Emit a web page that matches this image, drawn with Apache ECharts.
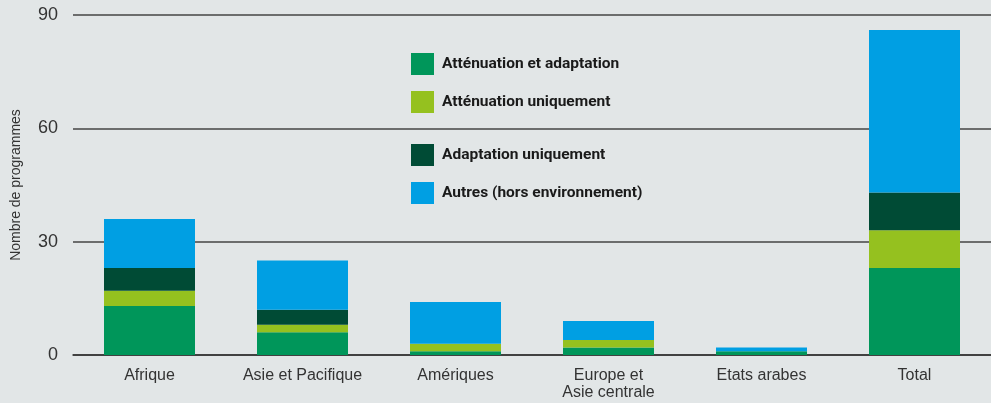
<html>
<head>
<meta charset="UTF-8">
<script src="https://cdn.jsdelivr.net/npm/echarts@6/dist/echarts.min.js"></script>
<style>
    html, body { margin: 0; padding: 0; background: #e2e6e7; }
</style>
</head>
<body>
<div id="chart" style="width:991px;height:403px;"></div>
<script>
    // regions and counts per programme type
    var regions = ['Afrique', 'Asie et Pacifique', 'Amériques', 'Europe et\nAsie centrale', 'Etats arabes', 'Total'];
    var attenAdapt = [13, 6, 1, 2, 1, 23];
    var attenOnly = [4, 2, 2, 2, 0, 10];
    var adaptOnly = [6, 4, 0, 0, 0, 10];
    var autres = [13, 13, 11, 5, 1, 43];
    var yTicks = [0, 30, 60, 90];

    var names = ['Atténuation et adaptation', 'Atténuation uniquement', 'Adaptation uniquement', 'Autres (hors environnement)'];
    var colors = ['#00965a', '#95c11f', '#004b35', '#009fe3'];
    var values = [attenAdapt, attenOnly, adaptOnly, autres];

    var chart = echarts.init(document.getElementById('chart'));

    var series = [];
    for (var i = 0; i < names.length; i++) {
        series.push({
            name: names[i],
            type: 'bar',
            stack: 'total',
            barWidth: 91,
            itemStyle: {color: colors[i]},
            data: values[i]
        });
    }

    var legendText = {
        fontFamily: 'Roboto',
        fontWeight: 'bold',
        fontSize: 15.5,
        color: '#1a1a1a',
        padding: [0, 0, 0, 3]
    };

    chart.setOption({
        animation: false,
        backgroundColor: '#e2e6e7',
        textStyle: {fontFamily: 'Liberation Sans'},
        grid: {left: 73, right: -2, top: 15, bottom: 48},
        legend: [{
            data: names.slice(0, 2),
            orient: 'vertical',
            left: 411, top: 53, padding: 0,
            itemWidth: 23, itemHeight: 22, itemGap: 16,
            icon: 'rect',
            textStyle: legendText
        }, {
            data: names.slice(2, 4),
            orient: 'vertical',
            left: 411, top: 144, padding: 0,
            itemWidth: 23, itemHeight: 22, itemGap: 16,
            icon: 'rect',
            textStyle: legendText
        }],
        xAxis: {
            type: 'category',
            data: regions,
            axisLine: {lineStyle: {color: '#333', width: 1.5}},
            axisTick: {show: false},
            axisLabel: {color: '#333', fontSize: 16, margin: 12, lineHeight: 17, interval: 0}
        },
        yAxis: {
            type: 'value',
            min: yTicks[0],
            max: yTicks[yTicks.length - 1],
            interval: 30,
            name: 'Nombre de programmes',
            nameLocation: 'middle',
            nameGap: 50,
            nameTextStyle: {color: '#333', fontSize: 14},
            axisLine: {show: false},
            axisTick: {show: false},
            axisLabel: {color: '#333', fontSize: 18, margin: 15},
            splitLine: {lineStyle: {color: '#444', width: 1.5}}
        },
        series: series
    });
</script>
</body>
</html>
